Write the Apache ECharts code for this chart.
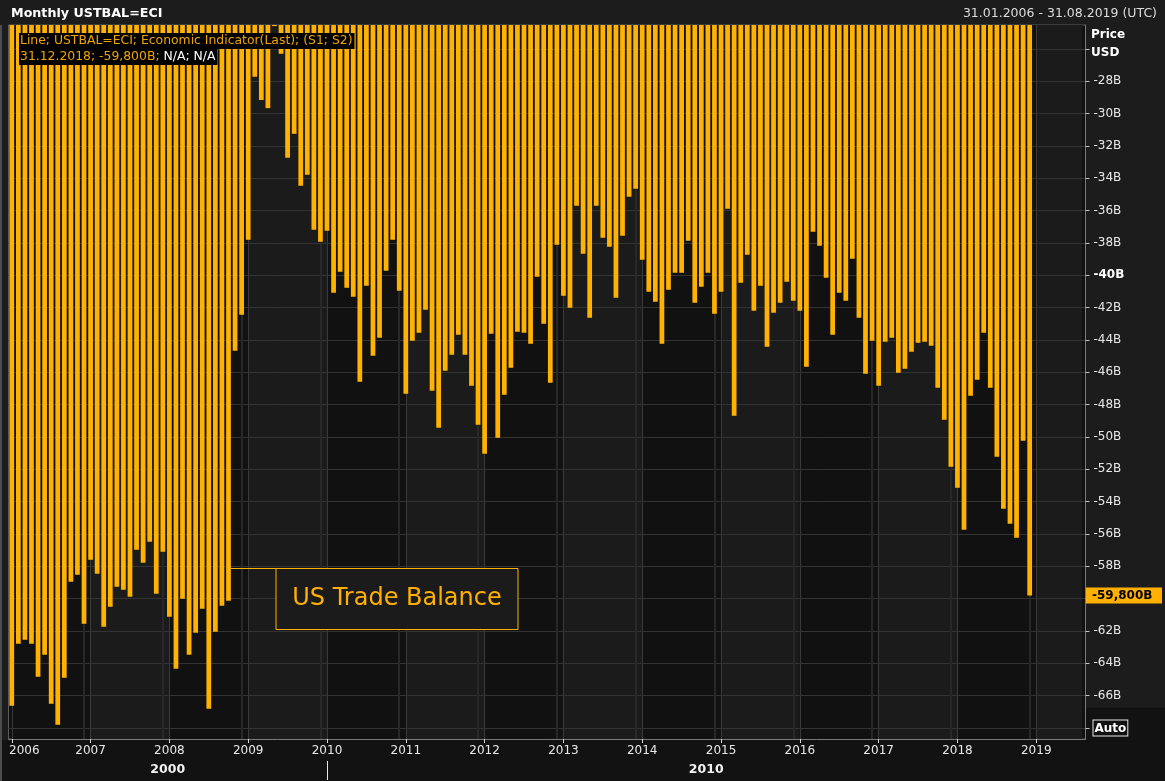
<!DOCTYPE html>
<html>
<head>
<meta charset="utf-8">
<script src="https://cdn.jsdelivr.net/npm/echarts@6/dist/echarts.min.js"></script>
<style>
html,body{margin:0;padding:0;background:#1c1c1c;}
#c{width:1165px;height:781px;}
</style>
</head>
<body>
<div id="c"></div>
<script>
// ---------- data ----------
const years = [2006, 2007, 2008, 2009, 2010, 2011, 2012, 2013, 2014, 2015, 2016, 2017, 2018, 2019];
const lastAxisMonth = '2019-08';
// monthly US trade balance, billions USD (Jan 2006 .. Dec 2018)
const balance2006 = [-66.62, -62.79, -62.54, -62.79, -64.83, -63.47, -66.50, -67.80, -64.89, -58.95, -58.52, -61.55];
const balance2007 = [-57.59, -58.46, -61.74, -60.50, -59.26, -59.45, -59.88, -56.97, -57.78, -56.48, -59.69, -57.10];
const balance2008 = [-61.12, -64.33, -60.00, -63.47, -62.11, -60.62, -66.81, -62.04, -60.44, -60.13, -44.67, -42.44];
const balance2009 = [-37.80, -27.72, -29.16, -29.66, -24.59, -26.30, -32.73, -31.25, -34.46, -33.78, -37.18, -37.93];
const balance2010 = [-37.25, -41.08, -39.78, -40.77, -41.33, -46.58, -40.65, -44.98, -43.86, -39.72, -37.80, -40.96];
const balance2011 = [-47.33, -44.05, -43.55, -42.13, -47.14, -49.43, -45.90, -44.91, -43.68, -44.91, -46.83, -49.24];
const balance2012 = [-51.04, -43.62, -50.05, -47.39, -45.72, -43.49, -43.55, -44.23, -40.09, -43.00, -46.65, -38.11];
const balance2013 = [-41.27, -42.01, -35.70, -38.67, -42.63, -35.70, -37.68, -38.24, -41.39, -37.55, -35.14, -34.65];
const balance2014 = [-39.04, -41.02, -41.64, -44.23, -40.89, -39.84, -39.84, -37.86, -41.70, -40.71, -39.84, -42.38];
const balance2015 = [-41.02, -35.88, -48.69, -40.46, -38.73, -42.19, -40.65, -44.42, -42.32, -41.70, -40.40, -41.57];
const balance2016 = [-42.19, -45.66, -37.31, -38.17, -40.15, -43.68, -41.08, -41.57, -38.98, -42.63, -46.09, -44.05];
const balance2017 = [-46.83, -44.11, -43.86, -46.03, -45.78, -44.73, -44.17, -44.11, -44.36, -46.95, -48.93, -51.84];
const balance2018 = [-53.14, -55.74, -47.45, -46.46, -43.55, -46.95, -51.22, -54.44, -55.37, -56.23, -50.23, -59.80];

const yTickValues = [-68, -66, -64, -62, -60, -58, -56, -54, -52, -50, -48, -46, -44, -42, -40, -38, -36, -34, -32, -30, -28, -26];
const yLabelValues = [-68, -66, -64, -62, -58, -56, -54, -52, -50, -48, -46, -44, -42, -40, -38, -36, -34, -32, -30, -28];
const decadeLabels = ['2000', '2010'];
const decadeStart = '2010-01';

// ---------- derived ----------
const tradeBalance = [].concat(balance2006, balance2007, balance2008, balance2009, balance2010, balance2011,
  balance2012, balance2013, balance2014, balance2015, balance2016, balance2017, balance2018);
const months = [];
years.forEach(function (y) {
  for (let m = 1; m <= 12; m++) {
    const key = y + '-' + String(m).padStart(2, '0');
    if (key > lastAxisMonth) break;
    months.push(key);
  }
});
const lastIdx = tradeBalance.length - 1;
const lastValue = tradeBalance[lastIdx];
const lastValueText = lastValue.toFixed(3).replace('.', ',') + 'B';
const lastMonth = months[lastIdx];
const lastDay = new Date(+lastMonth.slice(0, 4), +lastMonth.slice(5, 7), 0).getDate();
const lastDateText = String(lastDay).padStart(2, '0') + '.' + lastMonth.slice(5, 7) + '.' + lastMonth.slice(0, 4);

// ---------- layout ----------
const FONT = '"DejaVu Sans", Verdana, sans-serif';
const GRID_LEFT = 8.5, GRID_RIGHT_X = 1085.5, GRID_TOP = 25, GRID_BOTTOM_Y = 739;
const W = 1165, H = 781;
const Y_MIN = -68.68, Y_MAX = -24.52;
const BAR = '#ffb300';

const isJan = function (i, v) { return String(v).slice(5) === '01'; };
const isDec = function (i, v) { return String(v).slice(5) === '12'; };
const isJanOrLast = function (i, v) { return isJan(i, v) || i === months.length - 1; };

const chart = echarts.init(document.getElementById('c'), null, { renderer: 'canvas' });

chart.setOption({
  animation: false,
  backgroundColor: '#1c1c1c',
  textStyle: { fontFamily: FONT },
  grid: {
    left: GRID_LEFT, right: W - GRID_RIGHT_X, top: GRID_TOP, bottom: H - GRID_BOTTOM_Y,
    show: true, backgroundColor: '#111111', borderColor: '#5a5a5a', borderWidth: 1,
    containLabel: false, outerBoundsMode: 'none'
  },
  xAxis: [{
    type: 'category', data: months, boundaryGap: true, position: 'bottom', z: 0,
    axisLine: { show: true, lineStyle: { color: '#7a7a7a', width: 1 } },
    axisTick: { show: true, alignWithLabel: true, interval: isJan, length: 4, inside: false, lineStyle: { color: '#d8d8d8' } },
    axisLabel: {
      interval: isJan, color: '#e8e8e8', fontFamily: FONT, fontSize: 12, margin: 6,
      formatter: function (v) { return v === months[0] ? '{first|' + v.slice(0, 4) + '}' : v.slice(0, 4); },
      rich: { first: { color: '#e8e8e8', fontFamily: FONT, fontSize: 12, padding: [0, 0, 0, 25] } }
    },
    splitLine: { show: true, interval: isJan, alignWithLabel: true, lineStyle: { color: '#3a3a3a', width: 1 } },
    splitArea: { show: true, interval: isJanOrLast, alignWithLabel: true, areaStyle: { color: ['#111111', '#1b1b1b'] } }
  }, {
    type: 'category', data: months, boundaryGap: true, position: 'top', z: 1,
    axisLine: { show: false }, axisTick: { show: false }, axisLabel: { show: false },
    splitLine: { show: true, interval: isDec, alignWithLabel: true, lineStyle: { color: '#282828', width: 2 } },
    splitArea: { show: false }
  }],
  yAxis: [{
    type: 'value', position: 'right', min: Y_MIN, max: Y_MAX, z: 1,
    axisLine: { show: true, lineStyle: { color: '#7a7a7a', width: 1 } },
    axisTick: { show: true, customValues: yTickValues, length: 4, lineStyle: { color: '#c0c0c0' } },
    axisLabel: {
      customValues: yLabelValues, margin: 8, color: '#e8e8e8', fontFamily: FONT, fontSize: 12,
      formatter: function (v) {
        if (v === -68) return '{auto|Auto}';
        if (v === -40) return '{b|' + v + 'B}';
        return v + 'B';
      },
      rich: {
        auto: { color: '#ffffff', fontWeight: 'bold', fontFamily: FONT, fontSize: 12, borderColor: '#e8e8e8', borderWidth: 1, padding: [2, 1, 1, 1], backgroundColor: '#111111' },
        b: { color: '#ffffff', fontWeight: 'bold', fontFamily: FONT, fontSize: 12 }
      }
    },
    splitLine: { show: true, lineStyle: { color: '#333333', width: 1 } }
  }, {
    type: 'value', position: 'right', min: Y_MIN, max: Y_MAX, offset: 0, z: 3,
    axisLine: { show: false }, axisTick: { show: false }, splitLine: { show: false },
    axisLabel: {
      customValues: [lastValue], margin: 0.5,
      formatter: function () { return '{hl|' + lastValueText + '}'; },
      rich: {
        hl: { backgroundColor: '#ffb000', color: '#000000', fontWeight: 'bold', fontFamily: FONT, fontSize: 12, width: 69, padding: [2, 1, 2, 6], lineHeight: 13 }
      }
    }
  }],
  series: [{
    type: 'bar', name: 'USTBAL=ECI', data: tradeBalance, xAxisIndex: 0, yAxisIndex: 0,
    barCategoryGap: '28%', clip: true, silent: true, z: 2,
    itemStyle: { color: BAR }
  }]
});

// ---------- annotations positioned from the chart's scales ----------
const x2010 = chart.convertToPixel({ xAxisIndex: 0 }, decadeStart);
const xOct08 = chart.convertToPixel({ xAxisIndex: 0 }, '2008-10');
const band = (GRID_RIGHT_X - GRID_LEFT) / months.length;
const halfBar = band * 0.72 / 2;

function txt(x, y, text, font, fill, align, valign, extra) {
  const s = Object.assign({ text: text, font: font, fill: fill, align: align, textAlign: align, verticalAlign: valign, textVerticalAlign: valign }, extra || {});
  return { type: 'text', x: x, y: y, z: 100, silent: true, style: s };
}

const boxX = 276, boxY = 568.5, boxW = 242, boxH = 61;
const LEG_FONT = '12.4px ' + FONT;

chart.setOption({
  graphic: { elements: [
    // background regions
    { type: 'rect', z: -10, silent: true, shape: { x: 0, y: GRID_BOTTOM_Y + 1, width: W, height: H - GRID_BOTTOM_Y - 1 }, style: { fill: '#121212' } },
    { type: 'rect', z: -10, silent: true, shape: { x: GRID_RIGHT_X + 0.5, y: 707.7, width: W - GRID_RIGHT_X, height: H - 707.7 }, style: { fill: '#121212' } },
    { type: 'rect', z: -9, silent: true, shape: { x: 0, y: GRID_TOP, width: 2, height: H - GRID_TOP }, style: { fill: '#4d4d4d' } },
    // title bar
    txt(11, 13.5, 'Monthly USTBAL=ECI', 'bold 12.7px ' + FONT, '#ffffff', 'left', 'middle'),
    txt(1157, 13.5, '31.01.2006 - 31.08.2019 (UTC)', '12.5px ' + FONT, '#dcdcdc', 'right', 'middle'),
    // right axis header
    txt(1091, 34.5, 'Price', 'bold 12px ' + FONT, '#ffffff', 'left', 'middle'),
    txt(1091, 53, 'USD', 'bold 12px ' + FONT, '#ffffff', 'left', 'middle'),
    // legend boxes
    txt(19, 33, 'Line; USTBAL=ECI; Economic Indicator(Last); (S1; S2)', LEG_FONT, '#f0a500', 'left', 'top',
      { backgroundColor: '#000000', padding: [2, 2, 2, 1], lineHeight: 12 }),
    txt(19, 49, '{o|' + lastDateText + '; -' + lastValueText.slice(1) + '; }{w|N/A; N/A}', LEG_FONT, '#f0a500', 'left', 'top',
      { backgroundColor: '#000000', padding: [2, 2, 2, 1], lineHeight: 12,
        rich: { o: { fill: '#f0a500', color: '#f0a500', font: LEG_FONT, lineHeight: 12 }, w: { fill: '#ffffff', color: '#ffffff', font: LEG_FONT, lineHeight: 12 } } }),
    // series annotation
    { type: 'line', z: 99, silent: true, shape: { x1: xOct08 + halfBar, y1: boxY, x2: boxX, y2: boxY }, style: { stroke: '#ffb000', lineWidth: 1 } },
    { type: 'rect', z: 99, silent: true, shape: { x: boxX, y: boxY, width: boxW, height: boxH }, style: { fill: '#1b1b1b', stroke: '#ffb000', lineWidth: 1 } },
    txt(boxX + boxW / 2, boxY + boxH / 2, 'US Trade Balance', '24px ' + FONT, '#ffb000', 'center', 'middle'),
    // decade row
    txt((GRID_LEFT + x2010) / 2, 769.5, decadeLabels[0], 'bold 12.5px ' + FONT, '#f2f2f2', 'center', 'middle'),
    txt((x2010 + GRID_RIGHT_X) / 2, 769.5, decadeLabels[1], 'bold 12.5px ' + FONT, '#f2f2f2', 'center', 'middle'),
    { type: 'line', z: 99, silent: true, shape: { x1: Math.round(x2010) + 0.5, y1: 761, x2: Math.round(x2010) + 0.5, y2: 780 }, style: { stroke: '#e8e8e8', lineWidth: 1 } }
  ] }
});
</script>
</body>
</html>
